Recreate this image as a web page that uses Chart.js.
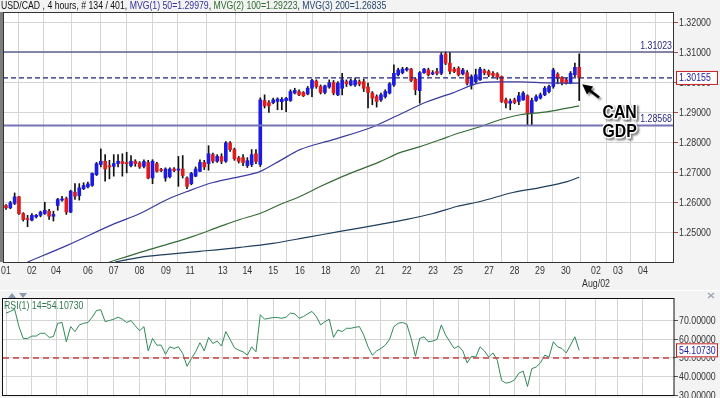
<!DOCTYPE html>
<html>
<head>
<meta charset="utf-8">
<script src="https://cdn.jsdelivr.net/npm/chart.js@4.4.0/dist/chart.umd.min.js"></script>
<style>
body { margin: 0; background: #f3f3f3; width: 720px; height: 398px; overflow: hidden; position: relative; font-family: "Liberation Sans", Arial, sans-serif; }
#title { position: absolute; left: 1px; top: 0; font-size: 10px; line-height: 12px; white-space: nowrap; color: #111; transform: scaleX(0.87); transform-origin: 0 0; }
#main { position: absolute; left: 0; top: 0; }
#rsi { position: absolute; left: 0; top: 292px; }
</style>
</head>
<body>
<canvas id="main" width="720" height="292"></canvas>
<canvas id="rsi" width="720" height="106"></canvas>
<div id="title">USD/CAD , 4 hours, # 134 / 401, <span style="color:#333399">MVG(1) 50=1.29979</span>, <span style="color:#2d6b2d">MVG(2) 100=1.29223</span>, <span style="color:#24466a">MVG(3) 200=1.26835</span></div>
<script>
// 4h candles, index 0 = first bar on the chart
const candleOpen = [1.2589,1.2581,1.2596,1.2618,1.2562,1.2545,1.2540,1.2551,1.2556,1.2562,
  1.2570,1.2553,1.2589,1.2607,1.2612,1.2567,1.2633,1.2622,1.2645,1.2651,
  1.2656,1.2692,1.2726,1.2737,1.2722,1.2720,1.2729,1.2736,1.2733,1.2722,
  1.2737,1.2731,1.2720,1.2733,1.2681,1.2729,1.2709,1.2681,1.2685,1.2711,
  1.2707,1.2711,1.2681,1.2662,1.2687,1.2703,1.2733,1.2729,1.2759,1.2737,
  1.2753,1.2737,1.2798,1.2776,1.2748,1.2749,1.2722,1.2726,1.2762,1.2726,
  1.2940,1.2933,1.2933,1.2937,1.2936,1.2940,1.2940,1.2965,1.2970,1.2967,
  1.2962,1.2981,1.3005,1.2987,1.2967,1.2985,1.3000,1.2959,1.2981,1.3003,
  1.2992,1.2992,1.3003,1.3003,1.2985,1.2965,1.2953,1.2942,1.2953,1.2965,
  1.2992,1.3026,1.3033,1.3042,1.3045,1.3011,1.2973,1.3033,1.3042,1.3029,
  1.3037,1.3031,1.3096,1.3065,1.3045,1.3048,1.3029,1.3033,1.2992,1.3003,
  1.3009,1.3040,1.3037,1.3031,1.3029,1.3020,1.2942,1.2931,1.2942,1.2937,
  1.2942,1.2956,1.2898,1.2940,1.2948,1.2959,1.2970,1.2987,1.3028,1.3017,
  1.3009,1.2998,1.3026,1.3051];
const candleHigh = [1.2592,1.2603,1.2631,1.2620,1.2565,1.2556,1.2562,1.2559,1.2570,1.2600,
  1.2576,1.2570,1.2613,1.2620,1.2617,1.2640,1.2662,1.2662,1.2665,1.2667,
  1.2698,1.2733,1.2778,1.2759,1.2740,1.2759,1.2759,1.2762,1.2767,1.2756,
  1.2742,1.2736,1.2742,1.2740,1.2742,1.2733,1.2713,1.2715,1.2715,1.2716,
  1.2753,1.2756,1.2685,1.2700,1.2718,1.2742,1.2740,1.2789,1.2764,1.2759,
  1.2762,1.2803,1.2803,1.2781,1.2753,1.2759,1.2749,1.2776,1.2776,1.2949,
  1.2959,1.2940,1.2948,1.2949,1.2950,1.2951,1.2976,1.2981,1.2976,1.2970,
  1.2987,1.3011,1.3009,1.2992,1.2992,1.3009,1.3007,1.3003,1.3031,1.3009,
  1.3011,1.3015,1.3009,1.3011,1.2998,1.2970,1.2959,1.2965,1.2976,1.3000,
  1.3059,1.3048,1.3051,1.3051,1.3048,1.3015,1.3037,1.3048,1.3048,1.3040,
  1.3048,1.3100,1.3102,1.3100,1.3051,1.3053,1.3048,1.3040,1.3026,1.3045,
  1.3051,1.3045,1.3042,1.3037,1.3033,1.3022,1.2948,1.2945,1.2948,1.2967,
  1.2970,1.2959,1.2948,1.2959,1.2965,1.2987,1.2992,1.3048,1.3033,1.3020,
  1.3015,1.3037,1.3065,1.3096];
const candleLow = [1.2576,1.2578,1.2592,1.2559,1.2537,1.2518,1.2537,1.2547,1.2551,1.2559,
  1.2542,1.2537,1.2573,1.2603,1.2559,1.2565,1.2609,1.2607,1.2642,1.2648,
  1.2653,1.2689,1.2718,1.2670,1.2678,1.2687,1.2718,1.2687,1.2698,1.2718,
  1.2720,1.2713,1.2715,1.2678,1.2662,1.2700,1.2702,1.2670,1.2681,1.2702,
  1.2653,1.2681,1.2645,1.2658,1.2685,1.2702,1.2709,1.2707,1.2731,1.2733,
  1.2729,1.2733,1.2770,1.2740,1.2731,1.2722,1.2716,1.2719,1.2729,1.2719,
  1.2915,1.2900,1.2929,1.2909,1.2909,1.2903,1.2937,1.2962,1.2956,1.2953,
  1.2959,1.2953,1.2981,1.2962,1.2962,1.2981,1.2959,1.2956,1.2959,1.2987,
  1.2989,1.2987,1.2989,1.2970,1.2915,1.2926,1.2918,1.2937,1.2948,1.2962,
  1.2987,1.3022,1.3029,1.3038,1.3003,1.2959,1.2931,1.3031,1.3022,1.3026,
  1.3026,1.3026,1.3060,1.3029,1.3033,1.3022,1.3026,1.2992,1.2978,1.2998,
  1.3007,1.3026,1.3020,1.3018,1.3011,1.2933,1.2915,1.2909,1.2929,1.2926,
  1.2940,1.2859,1.2859,1.2937,1.2945,1.2956,1.2965,1.2981,1.2996,1.2992,
  1.2995,1.2996,1.3020,1.2940];
const candleClose = [1.2581,1.2598,1.2618,1.2562,1.2542,1.2542,1.2556,1.2556,1.2567,1.2573,
  1.2553,1.2559,1.2609,1.2611,1.2567,1.2637,1.2620,1.2648,1.2656,1.2661,
  1.2696,1.2729,1.2737,1.2711,1.2718,1.2729,1.2737,1.2729,1.2729,1.2737,
  1.2729,1.2718,1.2736,1.2681,1.2737,1.2703,1.2706,1.2711,1.2711,1.2706,
  1.2711,1.2689,1.2653,1.2696,1.2711,1.2733,1.2718,1.2762,1.2737,1.2753,
  1.2737,1.2798,1.2776,1.2745,1.2737,1.2732,1.2739,1.2759,1.2736,1.2942,
  1.2922,1.2922,1.2942,1.2945,1.2944,1.2947,1.2970,1.2974,1.2959,1.2956,
  1.2981,1.3007,1.2987,1.2967,1.2989,1.3000,1.2965,1.2998,1.3009,1.2996,
  1.3006,1.3007,1.2995,1.2981,1.2967,1.2948,1.2937,1.2959,1.2970,1.2996,
  1.3031,1.3042,1.3045,1.3047,1.3007,1.2976,1.3033,1.3045,1.3026,1.3033,
  1.3031,1.3092,1.3065,1.3038,1.3037,1.3026,1.3042,1.2998,1.3020,1.3026,
  1.3045,1.3033,1.3026,1.3024,1.3018,1.2937,1.2931,1.2938,1.2933,1.2956,
  1.2965,1.2898,1.2940,1.2953,1.2959,1.2981,1.2987,1.3042,1.3015,1.3000,
  1.2998,1.3031,1.3051,1.30155];

// moving averages: [bar index, value]
const ma50 = [[5,1.2400],[14.2,1.24557],[24.8,1.25257],[31.1,1.25623],[37.4,1.26090],[42,1.26357],
  [48,1.26657],[54.3,1.26857],[58.9,1.27023],[63.6,1.27390],[68.2,1.27757],[75.9,1.28090],
  [85.2,1.28523],[90.7,1.28890],[97.7,1.29357],[103.7,1.29657],[110,1.29990],[114.6,1.30023],
  [119.3,1.30023],[125.5,1.29990],[133,1.29979]];
const ma100 = [[24,1.2400],[31.1,1.24323],[37.4,1.24590],[43.4,1.24857],[49.7,1.25190],[54.3,1.25423],
  [58.9,1.25623],[63.6,1.25923],[68.2,1.26190],[72.9,1.26523],[77.5,1.26823],[82.1,1.27090],
  [86.8,1.27357],[91.4,1.27657],[96.1,1.27857],[100.7,1.28090],[105.3,1.28323],[110,1.28523],
  [114.6,1.28757],[119.3,1.28923],[125.5,1.29023],[133,1.29223]];
const ma200 = [[25.3,1.2400],[31.1,1.24157],[37.4,1.24257],[45,1.24357],[54.3,1.24490],[61.9,1.24623],
  [69.8,1.24823],[77.5,1.25023],[86.8,1.25257],[93,1.25423],[99.1,1.25623],[104.6,1.25857],
  [110,1.26023],[117.6,1.26323],[123.9,1.26490],[130.2,1.26690],[133,1.26835]];

// horizontal levels
const levelHigh = 1.31023;
const levelLast = 1.30155;
const levelLow = 1.28568;

// RSI(14) per bar
const rsi = [74.2,75.1,76.3,66.9,60.5,60.5,61.8,61.8,63.3,63.3,
  61.1,61.5,68.7,69.1,58.7,66.9,64.2,67.8,68.7,69.1,
  72.0,75.6,76.0,69.6,70.2,70.9,72.0,70.9,69.1,70.2,
  67.3,64.7,66.9,53.8,60.5,56.9,56.9,52.0,56.0,55.1,
  56.0,52.4,45.5,49.6,53.3,58.2,53.8,61.1,57.8,59.1,
  56.4,64.2,60.0,55.5,54.2,53.3,51.5,56.0,53.3,73.3,
  70.9,71.4,71.8,71.8,71.4,72.0,74.2,73.8,71.4,72.3,
  73.8,75.1,72.3,67.8,69.6,70.9,61.1,65.1,64.2,66.0,
  66.0,66.5,66.9,62.4,56.0,51.5,53.8,55.1,56.9,60.0,
  66.9,68.7,69.1,68.2,60.5,50.9,60.5,61.4,58.7,59.1,
  60.0,67.8,62.4,58.7,55.1,56.4,53.8,47.3,50.9,50.5,
  56.0,53.8,50.5,52.7,48.7,37.8,36.4,36.9,38.2,41.8,
  42.9,34.6,44.2,45.1,47.3,51.5,50.5,58.7,56.0,55.1,
  52.7,57.0,61.4,54.1073];

// day ticks on the time axis (bar index where the day label sits)
const dayTickIdx = [0,6,11.6,19,25,31,37.1,42.7,50.3,56,62,68.2,74.2,81,86.8,93,99.1,104.9,112.1,118,123.9,129.9,136.9,142,147.8];
const dayTickLbl = ['01','02','04','06','07','08','09','11','13','14','15','16','18','20','21','22','23','25','27','28','29','30',['02','Aug/02'],'03','04'];
const priceTicks = [1.25,1.26,1.27,1.28,1.29,1.30,1.31,1.32];
const rsiTicks = [30,40,50,60,70];

const xMin = -0.7, xMax = 155;
const FONT = '"Liberation Sans", Arial, sans-serif';
const SQUEEZE = 0.8; // the reference text is horizontally condensed
Chart.defaults.font.family = FONT;
Chart.defaults.font.size = 11;

const idx = candleOpen.map((_, i) => i);
const wickData = idx.map(i => ({ x: i, y: [candleLow[i], candleHigh[i]] }));
const bodyData = idx.map(i => ({ x: i, y: [Math.min(candleOpen[i], candleClose[i]), Math.max(candleOpen[i], candleClose[i])] }));
const bodyColors = idx.map(i => candleClose[i] >= candleOpen[i] ? '#1c1ce0' : '#de1c1c');
const toPts = arr => arr.map(p => ({ x: p[0], y: p[1] }));
const flat = v => [{ x: xMin, y: v }, { x: xMax, y: v }];

function lineDs(data, color, width, dash) {
  return { type: 'line', data, borderColor: color, borderWidth: width, borderDash: dash || [],
    pointRadius: 0, fill: false, order: 0, cubicInterpolationMode: 'monotone' };
}

function sqText(ctx, text, x, y, align, sx) {
  ctx.save();
  ctx.translate(x, y);
  ctx.scale(sx || SQUEEZE, 1);
  ctx.textAlign = align;
  ctx.fillText(text, 0, 0);
  ctx.restore();
}

function priceBox(ctx, y, text) {
  ctx.fillStyle = '#ffffff';
  ctx.fillRect(676, y - 7, 42, 14);
  ctx.strokeStyle = '#c82020';
  ctx.lineWidth = 1;
  ctx.strokeRect(676.5, y - 6.5, 41, 13);
  ctx.fillStyle = '#1a1a9a';
  ctx.font = '11px ' + FONT;
  ctx.textBaseline = 'middle';
  sqText(ctx, text, 679, y + 0.5, 'left');
}

function rightLabels(ctx, chart, ticks, fmt) {
  const a = chart.chartArea, ys = chart.scales.y;
  ctx.font = '11px ' + FONT;
  ctx.fillStyle = '#333';
  ctx.textBaseline = 'middle';
  ticks.forEach(v => sqText(ctx, fmt(v), a.right + 5, ys.getPixelForValue(v) + 0.5, 'left'));
}

const noPad = s => { s.paddingTop = 0; s.paddingBottom = 0; s.paddingLeft = 0; s.paddingRight = 0; };

const mainPlugin = {
  id: 'mainDeco',
  beforeDraw(chart) {
    const { ctx, chartArea: a } = chart;
    ctx.save();
    ctx.fillStyle = '#ffffff';
    ctx.fillRect(a.left, a.top, a.right - a.left, a.bottom - a.top);
    ctx.restore();
  },
  afterDraw(chart) {
    const { ctx, chartArea: a } = chart;
    const xs = chart.scales.x, ys = chart.scales.y;
    ctx.save();
    ctx.strokeStyle = '#333';
    ctx.lineWidth = 1;
    ctx.strokeRect(a.left + 0.5, a.top + 0.5, a.right - a.left - 1, a.bottom - a.top);
    ctx.fillStyle = '#7d7d7d';
    ctx.fillRect(0, a.top, 3, a.bottom - a.top);
    // separator to RSI pane
    ctx.fillStyle = '#ffffff';
    ctx.fillRect(0, 290, 720, 1);

    // time axis labels
    ctx.font = '11px ' + FONT;
    ctx.fillStyle = '#333';
    ctx.textBaseline = 'middle';
    dayTickIdx.forEach((v, k) => {
      const lines = [].concat(dayTickLbl[k]);
      lines.forEach((t, j) => sqText(ctx, t, xs.getPixelForValue(v), a.bottom + 9 + j * 13, 'center'));
    });
    rightLabels(ctx, chart, priceTicks, v => v.toFixed(5));

    // level labels
    ctx.fillStyle = '#2a2a80';
    ctx.textBaseline = 'alphabetic';
    sqText(ctx, levelHigh.toFixed(5), a.right - 2, ys.getPixelForValue(levelHigh) - 3, 'right');
    sqText(ctx, levelLow.toFixed(5), a.right - 2, ys.getPixelForValue(levelLow) - 3, 'right');

    priceBox(ctx, ys.getPixelForValue(levelLast), levelLast.toFixed(5));

    // CAN GDP note
    const tipX = xs.getPixelForValue(133.7), tipY = ys.getPixelForValue(1.2994);
    const tailX = xs.getPixelForValue(137.6), tailY = ys.getPixelForValue(1.2950);
    const ang = Math.atan2(tipY - tailY, tipX - tailX);
    ctx.shadowColor = 'rgba(0,0,0,0.45)';
    ctx.shadowOffsetX = 2; ctx.shadowOffsetY = 2; ctx.shadowBlur = 2;
    ctx.strokeStyle = '#000';
    ctx.lineWidth = 2.5;
    ctx.beginPath();
    ctx.moveTo(tailX, tailY);
    ctx.lineTo(tipX - 7 * Math.cos(ang), tipY - 7 * Math.sin(ang));
    ctx.stroke();
    ctx.fillStyle = '#000';
    ctx.beginPath();
    ctx.moveTo(tipX, tipY);
    ctx.lineTo(tipX - 10 * Math.cos(ang) + 5 * Math.sin(ang), tipY - 10 * Math.sin(ang) - 5 * Math.cos(ang));
    ctx.lineTo(tipX - 10 * Math.cos(ang) - 5 * Math.sin(ang), tipY - 10 * Math.sin(ang) + 5 * Math.cos(ang));
    ctx.closePath();
    ctx.fill();

    ctx.font = 'bold 18px ' + FONT;
    ctx.textBaseline = 'alphabetic';
    const tx = xs.getPixelForValue(138.4);
    const ty = ys.getPixelForValue(1.2881);
    ['CAN', 'GDP'].forEach((t, k) => {
      ctx.save();
      ctx.translate(tx, ty + k * 19);
      ctx.scale(0.88, 1);
      ctx.textAlign = 'left';
      ctx.lineWidth = 3;
      ctx.strokeStyle = '#ffffff';
      ctx.shadowColor = 'rgba(0,0,0,0.45)';
      ctx.strokeText(t, 0, 0);
      ctx.shadowColor = 'transparent';
      ctx.fillStyle = '#000';
      ctx.fillText(t, 0, 0);
      ctx.restore();
    });
    ctx.restore();
  }
};

new Chart(document.getElementById('main'), {
  type: 'bar',
  data: {
    datasets: [
      lineDs(flat(levelHigh), '#22226a', 1),
      lineDs(flat(levelLast), '#22227a', 1.2, [5, 3]),
      lineDs(flat(levelLow), '#7474b4', 2),
      lineDs(toPts(ma50), '#3a3aa0', 1.2),
      lineDs(toPts(ma100), '#356b35', 1.2),
      lineDs(toPts(ma200), '#1f3d5c', 1.2),
      { type: 'bar', data: bodyData, backgroundColor: bodyColors, barThickness: 3, grouped: false, minBarLength: 1, order: 1 },
      { type: 'bar', data: wickData, backgroundColor: '#111', barThickness: 1, grouped: false, order: 2 }
    ]
  },
  options: {
    responsive: false,
    animation: false,
    layout: { padding: { left: 3, top: 12, right: 0, bottom: 0 } },
    plugins: { legend: { display: false }, tooltip: { enabled: false } },
    scales: {
      x: {
        type: 'linear', min: xMin, max: xMax, offset: false,
        afterBuildTicks: s => { s.ticks = dayTickIdx.map(v => ({ value: v })); },
        afterFit: s => { s.height = 30; noPad(s); },
        grid: { color: '#d4d4d4', drawTicks: false },
        border: { display: false },
        ticks: { display: false }
      },
      y: {
        position: 'right', min: 1.24, max: 1.3236,
        afterBuildTicks: s => { s.ticks = priceTicks.map(v => ({ value: v })); },
        afterFit: s => { s.width = 46; noPad(s); },
        grid: { color: '#d4d4d4', tickColor: '#b04848', tickLength: 4 },
        border: { display: false },
        ticks: { display: false }
      }
    }
  },
  plugins: [mainPlugin]
});

const rsiPlugin = {
  id: 'rsiDeco',
  beforeDraw(chart) {
    const { ctx, chartArea: a } = chart;
    ctx.save();
    ctx.fillStyle = '#ffffff';
    ctx.fillRect(a.left, a.top, a.right - a.left, a.bottom - a.top);
    ctx.restore();
  },
  afterDraw(chart) {
    const { ctx, chartArea: a } = chart;
    const ys = chart.scales.y;
    ctx.save();
    ctx.strokeStyle = '#111';
    ctx.lineWidth = 1;
    ctx.strokeRect(a.left - 0.5, a.top - 0.5, a.right - a.left + 0.5, a.bottom - a.top + 1);
    // pane arrows and close mark
    ctx.fillStyle = '#8a9ab0';
    ctx.beginPath(); ctx.moveTo(8, 6); ctx.lineTo(16, 6); ctx.lineTo(12, 1); ctx.closePath(); ctx.fill();
    ctx.beginPath(); ctx.moveTo(19, 1); ctx.lineTo(27, 1); ctx.lineTo(23, 6); ctx.closePath(); ctx.fill();
    ctx.strokeStyle = '#9aa4b0';
    ctx.lineWidth = 1.3;
    ctx.beginPath(); ctx.moveTo(708, 1); ctx.lineTo(714, 6); ctx.moveTo(714, 1); ctx.lineTo(708, 6); ctx.stroke();

    rightLabels(ctx, chart, rsiTicks, v => v.toFixed(5));

    const last = rsi[rsi.length - 1];
    ctx.fillStyle = '#2f7a4e';
    ctx.textBaseline = 'alphabetic';
    sqText(ctx, 'RSI(1) 14=' + last.toFixed(5), a.left + 1, a.top + 10, 'left');

    priceBox(ctx, ys.getPixelForValue(last), last.toFixed(5));
    ctx.restore();
  }
};

new Chart(document.getElementById('rsi'), {
  type: 'line',
  data: {
    datasets: [
      { data: flat(50), borderColor: '#cc4040', borderWidth: 1.5, borderDash: [6, 4], pointRadius: 0 },
      { data: idx.map(i => ({ x: i, y: rsi[i] })), borderColor: '#2f8a5a', borderWidth: 1, pointRadius: 0, tension: 0 }
    ]
  },
  options: {
    responsive: false,
    animation: false,
    layout: { padding: { left: 3, top: 7, right: 0, bottom: 0 } },
    plugins: { legend: { display: false }, tooltip: { enabled: false } },
    scales: {
      x: {
        type: 'linear', min: xMin, max: xMax,
        afterBuildTicks: s => { s.ticks = dayTickIdx.map(v => ({ value: v })); },
        afterFit: s => { s.height = 3; noPad(s); },
        grid: { color: '#d4d4d4', drawTicks: false },
        border: { display: false },
        ticks: { display: false }
      },
      y: {
        position: 'right', min: 30, max: 81.8,
        afterBuildTicks: s => { s.ticks = rsiTicks.map(v => ({ value: v })); },
        afterFit: s => { s.width = 46; noPad(s); },
        grid: { color: '#d4d4d4', tickColor: '#555', tickLength: 4 },
        border: { display: false },
        ticks: { display: false }
      }
    }
  },
  plugins: [rsiPlugin]
});
</script>
</body>
</html>
